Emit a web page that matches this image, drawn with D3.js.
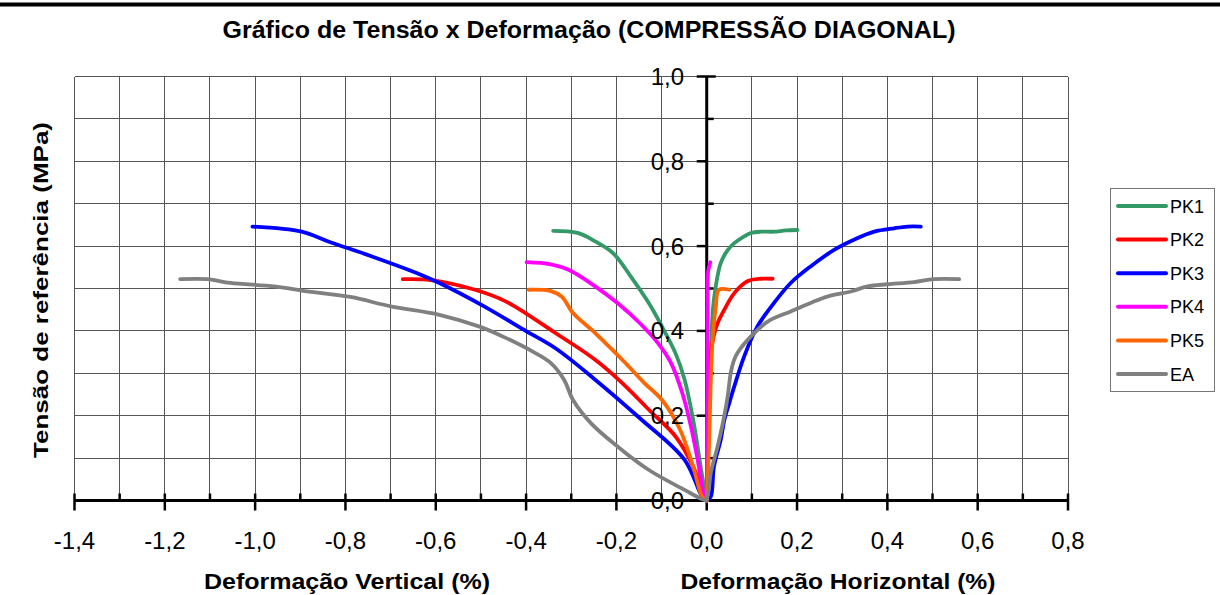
<!DOCTYPE html>
<html><head><meta charset="utf-8">
<script src="https://cdn.jsdelivr.net/npm/d3@7/dist/d3.min.js"></script>
<style>
html,body{margin:0;padding:0;background:#fff;}
text{font-family:"Liberation Sans",Arial,sans-serif;}
</style></head>
<body><svg id="c" width="1220" height="595"></svg>
<script>
// ---- data ----
const seriesNames = ["PK1","PK2","PK3","PK4","PK5","EA"];
const seriesColors = ["#339966","#FF0000","#0000FF","#FF00FF","#FF6600","#808080"];
// vertical deformation branches (negative %), from far end to origin
const pk1V = [[-0.340,0.636],[-0.286,0.631],[-0.247,0.611],[-0.207,0.583],[-0.168,0.528],[-0.128,0.465],[-0.099,0.410],[-0.069,0.347],[-0.049,0.285],[-0.030,0.190],[-0.010,0.057],[0,0]];
const pk2V = [[-0.673,0.522],[-0.611,0.520],[-0.513,0.497],[-0.444,0.469],[-0.335,0.395],[-0.247,0.332],[-0.187,0.277],[-0.128,0.214],[-0.069,0.151],[-0.030,0.080],[-0.005,0.009],[0,0]];
const pk3V = [[-1.006,0.646],[-0.897,0.634],[-0.838,0.611],[-0.740,0.575],[-0.641,0.536],[-0.592,0.513],[-0.493,0.458],[-0.399,0.399],[-0.335,0.359],[-0.247,0.285],[-0.148,0.194],[-0.049,0.096],[-0.010,0.009],[0,0]];
const pk4V = [[-0.399,0.562],[-0.345,0.557],[-0.306,0.544],[-0.247,0.505],[-0.197,0.465],[-0.148,0.418],[-0.108,0.371],[-0.079,0.324],[-0.054,0.253],[-0.035,0.175],[-0.020,0.096],[-0.007,0.017],[0,0]];
const pk5V = [[-0.394,0.497],[-0.345,0.494],[-0.321,0.481],[-0.296,0.442],[-0.247,0.395],[-0.187,0.332],[-0.138,0.277],[-0.099,0.237],[-0.059,0.167],[-0.030,0.080],[-0.010,0.009],[0,0]];
const eaV  = [[-1.166,0.522],[-1.105,0.522],[-1.055,0.513],[-0.957,0.505],[-0.897,0.495],[-0.789,0.480],[-0.700,0.458],[-0.592,0.438],[-0.503,0.410],[-0.444,0.383],[-0.385,0.351],[-0.345,0.324],[-0.316,0.285],[-0.296,0.237],[-0.256,0.182],[-0.197,0.127],[-0.128,0.072],[-0.049,0.025],[-0.010,0.003],[0,0]];
// horizontal deformation branches (positive %), from origin to far end
const pk1H = [[0,0],[0.003,0.100],[0.005,0.206],[0.009,0.330],[0.013,0.442],[0.020,0.505],[0.031,0.560],[0.046,0.590],[0.061,0.607],[0.083,0.623],[0.098,0.631],[0.120,0.634],[0.149,0.634],[0.175,0.637],[0.201,0.638]];
const pk2H = [[0,0],[0.002,0.100],[0.004,0.200],[0.006,0.300],[0.009,0.348],[0.016,0.390],[0.024,0.418],[0.039,0.450],[0.061,0.489],[0.090,0.517],[0.120,0.523],[0.146,0.523]];
const pk3H = [[0,0],[0.009,0.009],[0.016,0.080],[0.031,0.143],[0.039,0.190],[0.050,0.230],[0.061,0.269],[0.083,0.340],[0.112,0.410],[0.149,0.466],[0.186,0.513],[0.230,0.552],[0.282,0.591],[0.326,0.615],[0.371,0.634],[0.415,0.642],[0.445,0.646],[0.474,0.646]];
const pk4H = [[0,0],[0.001,0.150],[0.002,0.300],[0.002,0.450],[0.003,0.540],[0.008,0.562]];
const pk5H = [[0,0],[0.005,0.127],[0.009,0.285],[0.013,0.379],[0.020,0.456],[0.027,0.497],[0.050,0.497]];
const eaH  = [[0,0],[0.005,0.030],[0.009,0.065],[0.024,0.127],[0.039,0.200],[0.047,0.250],[0.053,0.300],[0.060,0.330],[0.068,0.348],[0.098,0.387],[0.135,0.422],[0.186,0.446],[0.230,0.466],[0.267,0.481],[0.319,0.493],[0.356,0.505],[0.400,0.510],[0.459,0.515],[0.503,0.522],[0.559,0.522]];
const verticalBranches = [pk1V,pk2V,pk3V,pk4V,pk5V,eaV];
const horizontalBranches = [pk1H,pk2H,pk3H,pk4H,pk5H,eaH];
const xTickValues = [-1.4,-1.2,-1.0,-0.8,-0.6,-0.4,-0.2,0.0,0.2,0.4,0.6,0.8];
const yTickValues = [0.0,0.2,0.4,0.6,0.8,1.0];
const title = "Gráfico de Tensão x Deformação (COMPRESSÃO DIAGONAL)";
const yTitle = "Tensão de referência (MPa)";
const xTitleLeft = "Deformação Vertical  (%)";
const xTitleRight = "Deformação Horizontal (%)";

// ---- drawing ----
const svg = d3.select("#c");
const x = d3.scaleLinear().domain([-1.4,0.8]).range([74.5,1068]);
const y = d3.scaleLinear().domain([0,1]).range([500.5,76.5]);
const fmt = v => d3.format(".1f")(v).replace(".",",").replace("\u2212","-");

svg.append("rect").attr("x",0).attr("y",2.5).attr("width",1220).attr("height",4).attr("fill","#000");

svg.append("text").attr("x",589).attr("y",38).attr("text-anchor","middle")
  .attr("font-size",23).attr("font-weight","bold").attr("textLength",733).attr("lengthAdjust","spacingAndGlyphs")
  .text(title);

// grid
const gridX = d3.range(-14,9).map(i=>i/10);
const gridY = d3.range(1,11).map(i=>i/10);
const grid = svg.append("g").attr("stroke","#555").attr("stroke-width",1).attr("shape-rendering","crispEdges");
grid.selectAll("line.gx").data(gridX).join("line").attr("class","gx")
  .attr("x1",d=>x(d)).attr("x2",d=>x(d)).attr("y1",y(1)).attr("y2",y(0));
grid.selectAll("line.gy").data(gridY).join("line").attr("class","gy")
  .attr("x1",x(-1.4)).attr("x2",x(0.8)).attr("y1",d=>y(d)).attr("y2",d=>y(d));

// axes lines
const ax = svg.append("g").attr("stroke","#000");
ax.append("line").attr("x1",x(-1.4)).attr("x2",x(0.8)).attr("y1",y(0)).attr("y2",y(0)).attr("stroke-width",3);
ax.append("line").attr("x1",x(0)).attr("x2",x(0)).attr("y1",y(0)).attr("y2",y(1)).attr("stroke-width",3);
// x ticks
ax.selectAll("line.xmaj").data(xTickValues).join("line").attr("class","xmaj")
  .attr("x1",d=>x(d)).attr("x2",d=>x(d)).attr("y1",y(0)-7).attr("y2",y(0)+10).attr("stroke-width",2.5);
ax.selectAll("line.xmin").data(d3.range(-13,8,2).map(i=>i/10)).join("line").attr("class","xmin")
  .attr("x1",d=>x(d)).attr("x2",d=>x(d)).attr("y1",y(0)-7).attr("y2",y(0)).attr("stroke-width",2.5);
// y ticks
ax.selectAll("line.ymaj").data(yTickValues).join("line").attr("class","ymaj")
  .attr("x1",d=>x(0)-10).attr("x2",d=>d===1?x(0)+9:x(0)).attr("y1",d=>y(d)).attr("y2",d=>y(d)).attr("stroke-width",2.5);
ax.selectAll("line.ymin").data([0.1,0.3,0.5,0.7,0.9]).join("line").attr("class","ymin")
  .attr("x1",x(0)).attr("x2",x(0)+7).attr("y1",d=>y(d)).attr("y2",d=>y(d)).attr("stroke-width",2.5);

// series
const line = d3.line().x(d=>x(d[0])).y(d=>y(d[1])).curve(d3.curveCatmullRom.alpha(0.5));
const lines = svg.append("g").attr("fill","none").attr("stroke-width",3.8).attr("stroke-linecap","round").attr("stroke-linejoin","round");
seriesNames.forEach((n,i)=>{
  lines.append("path").attr("d",line(verticalBranches[i])).attr("stroke",seriesColors[i]);
  lines.append("path").attr("d",line(horizontalBranches[i])).attr("stroke",seriesColors[i]);
});

// tick labels
svg.append("g").selectAll("text").data(xTickValues).join("text")
  .attr("x",d=>x(d)).attr("y",549).attr("text-anchor","middle").attr("font-size",24).text(fmt);
svg.append("g").selectAll("text").data(yTickValues).join("text")
  .attr("x",684).attr("y",d=>y(d)+8.5).attr("text-anchor","end").attr("font-size",24).text(fmt);

// axis titles
svg.append("text").attr("transform","translate(48,290) rotate(-90)").attr("text-anchor","middle")
  .attr("font-size",21).attr("font-weight","bold").attr("textLength",336).attr("lengthAdjust","spacingAndGlyphs").text(yTitle);
svg.append("text").attr("x",347).attr("y",589).attr("text-anchor","middle")
  .attr("font-size",22).attr("font-weight","bold").attr("textLength",286).attr("lengthAdjust","spacingAndGlyphs").text(xTitleLeft);
svg.append("text").attr("x",838).attr("y",589).attr("text-anchor","middle")
  .attr("font-size",22).attr("font-weight","bold").attr("textLength",315).attr("lengthAdjust","spacingAndGlyphs").text(xTitleRight);

// legend
const lg = svg.append("g");
lg.append("rect").attr("x",1110.5).attr("y",188.5).attr("width",104).attr("height",203).attr("fill","#fff").attr("stroke","#777").attr("stroke-width",1);
const ly = d3.scalePoint().domain(seriesNames).range([206,374]);
seriesNames.forEach((n,i)=>{
  lg.append("line").attr("x1",1118).attr("x2",1166).attr("y1",ly(n)).attr("y2",ly(n))
    .attr("stroke",seriesColors[i]).attr("stroke-width",4).attr("stroke-linecap","round");
  lg.append("text").attr("x",1170).attr("y",ly(n)+6.5).attr("font-size",18).text(n);
});
</script></body></html>
